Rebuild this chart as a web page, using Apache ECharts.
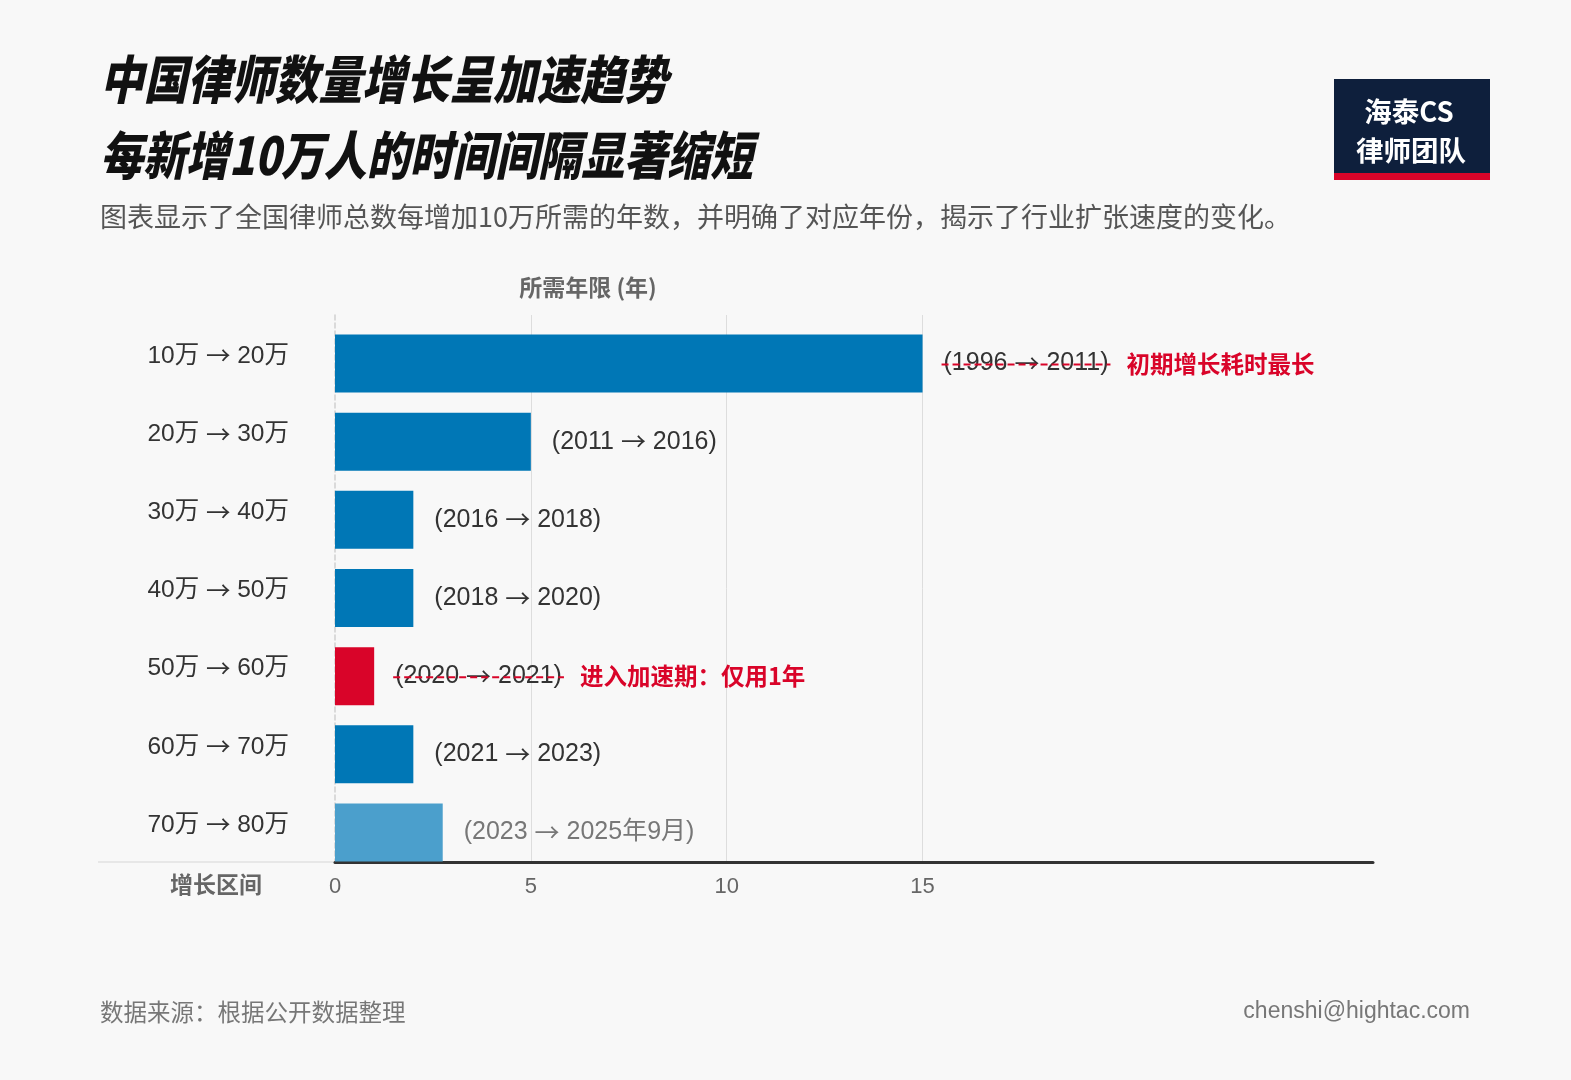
<!DOCTYPE html>
<html><head><meta charset="utf-8">
<script src="https://cdn.jsdelivr.net/npm/echarts@6/dist/echarts.min.js"></script>
<style>html,body{margin:0;padding:0;background:#f8f8f8}#c{width:1571px;height:1080px}</style>
</head><body><div id="c"></div>
<script>
const categories = ['10万 → 20万','20万 → 30万','30万 → 40万','40万 → 50万','50万 → 60万','60万 → 70万','70万 → 80万'];
const years = [15, 5, 2, 2, 1, 2, 2.75];
const periods = ['(1996 → 2011)','(2011 → 2016)','(2016 → 2018)','(2018 → 2020)','(2020 → 2021)','(2021 → 2023)','(2023 → 2025年9月)'];
const notes = ['初期增长耗时最长','','','','进入加速期：仅用1年','',''];
const barKinds = ['normal','normal','normal','normal','highlight','normal','estimate'];
const xTicks = [0, 5, 10, 15];

const FONT = '"Liberation Sans","Noto Sans CJK SC",sans-serif';
const CJK = '"Noto Sans CJK SC","Liberation Sans",sans-serif';
const colors = {normal:'#0077b6', highlight:'#d90429', estimate:'#4b9fcc'};
const LABEL_DIST = 21, LABEL_SIZE = 25;

const mctx = document.createElement('canvas').getContext('2d');
function textW(t, font){ mctx.font = font; return mctx.measureText(t).width; }
// width of a "A → B" string drawn with latin text + CJK arrow
function arrowTextW(t, size){
  const parts = t.split('→');
  let w = 0;
  parts.forEach((p, k) => {
    w += textW(p, size + 'px ' + FONT);
    if (k < parts.length - 1) w += textW('→', size + 'px ' + CJK);
  });
  return w;
}
function richArrow(t, s, a){
  return t.split('→').map(p => p ? '{' + s + '|' + p + '}' : '').join('{' + a + '|→}');
}

const chart = echarts.init(document.getElementById('c'), null, {renderer:'canvas'});

const barData = years.map((v,i)=>({
  value: v,
  itemStyle: {color: colors[barKinds[i]]},
  label: {
    formatter: barKinds[i]==='estimate'
      ? richArrow(periods[i], 'g', 'ga')
      : richArrow(periods[i], 'p', 'pa') + (notes[i] ? '{n|' + notes[i] + '}' : '')
  }
}));

const strikeData = [];
notes.forEach((n,i)=>{ if(n) strikeData.push([years[i], i]); });

chart.setOption({
  backgroundColor: '#f8f8f8',
  animation: false,
  grid: [
    {left: 335, right: 198, top: 315, bottom: 218},
    {left: 335, right: 198, top: 324.5, bottom: 208.5}
  ],
  xAxis: [
    {
      gridIndex: 0, type: 'value', min: 0, max: 26.5, interval: 5,
      axisLine: {show: true, lineStyle: {color: '#333', width: 3}},
      axisTick: {show: false},
      axisLabel: {
        color: '#666', fontSize: 22, fontFamily: FONT, margin: 14,
        formatter: v => xTicks.indexOf(v) >= 0 ? String(v) : ''
      },
      splitLine: {show: true, lineStyle: {color: ['transparent','#dddddd','#dddddd','#dddddd','transparent','transparent','transparent'], width: 1}}
    },
    {
      gridIndex: 1, type: 'value', min: 0, max: 26.5, interval: 5, show: false,
      splitLine: {show: false}
    }
  ],
  yAxis: [
    {
      gridIndex: 0, type: 'category', inverse: true, data: categories,
      axisLine: {show: true, lineStyle: {color: '#cfcfcf', type: [5,3], width: 1.5}},
      axisTick: {show: false},
      axisLabel: {
        margin: 46,
        formatter: v => richArrow(v, 't', 'a'),
        rich: {
          t: {color: '#333', fontSize: 24.5, fontFamily: FONT, padding: [4,0,0,0]},
          a: {color: '#333', fontSize: 24.5, fontFamily: CJK, padding: [4,0,0,0]}
        }
      }
    },
    {
      gridIndex: 1, type: 'category', inverse: true, data: categories, show: false
    }
  ],
  series: [
    {
      type: 'bar', xAxisIndex: 1, yAxisIndex: 1, barWidth: 58, data: barData,
      label: {
        show: true, position: 'right', distance: LABEL_DIST,
        rich: {
          p: {color: '#333', fontSize: LABEL_SIZE, fontFamily: FONT},
          pa: {color: '#333', fontSize: LABEL_SIZE, fontFamily: CJK},
          g: {color: '#777', fontSize: LABEL_SIZE, fontFamily: FONT},
          ga: {color: '#777', fontSize: LABEL_SIZE, fontFamily: CJK},
          n: {color: '#d90429', fontSize: 23.5, fontWeight: 'bold', fontFamily: CJK, padding: [0,0,0,18]}
        }
      }
    },
    {
      type: 'custom', xAxisIndex: 1, yAxisIndex: 1, z: 10, data: strikeData,
      renderItem: function(params, api){
        const i = api.value(1);
        const p = api.coord([api.value(0), i]);
        const x1 = p[0] + LABEL_DIST - 2;
        const x2 = p[0] + LABEL_DIST + arrowTextW(periods[i], LABEL_SIZE) + 2;
        return {
          type: 'line',
          shape: {x1: x1, y1: p[1] + 1, x2: x2, y2: p[1] + 1},
          style: {stroke: '#d90429', lineWidth: 2, lineDash: [7,4]}
        };
      }
    }
  ],
  graphic: [
    {type:'text', x: 100, y: 79, scaleX: 0.84, style:{text:'中国律师数量增长呈加速趋势', fill:'#111', fontSize: 52, fontWeight: 900, fontStyle:'italic', fontFamily: CJK, verticalAlign:'middle'}},
    {type:'text', x: 100, y: 155, scaleX: 0.825, style:{text:'每新增10万人的时间间隔显著缩短', fill:'#111', fontSize: 52, fontWeight: 900, fontStyle:'italic', fontFamily: CJK, verticalAlign:'middle'}},
    {type:'text', x: 100, y: 217, style:{text:'图表显示了全国律师总数每增加10万所需的年数，并明确了对应年份，揭示了行业扩张速度的变化。', fill:'#555', fontSize: 27, fontFamily: CJK, verticalAlign:'middle'}},
    {type:'rect', left: 1334, top: 79, shape:{width:156, height:101}, style:{fill:'#0e1f3c'}},
    {type:'rect', left: 1334, top: 173, shape:{width:156, height:7}, style:{fill:'#d90429'}},
    {type:'text', x: 1409, y: 112, style:{text:'海泰CS', fill:'#fff', fontSize: 27.5, fontWeight:'bold', fontFamily: CJK, align:'center', verticalAlign:'middle'}},
    {type:'text', x: 1411, y: 151, style:{text:'律师团队', fill:'#fff', fontSize: 27.5, fontWeight:'bold', fontFamily: CJK, align:'center', verticalAlign:'middle'}},
    {type:'text', x: 588, y: 287, style:{text:'所需年限 (年)', fill:'#666', fontSize: 23, fontWeight:'bold', fontFamily: CJK, align:'center', verticalAlign:'middle'}},
    {type:'text', x: 216, y: 884, style:{text:'增长区间', fill:'#666', fontSize: 23, fontWeight:'bold', fontFamily: CJK, align:'center', verticalAlign:'middle'}},
    {type:'line', shape:{x1: 98, y1: 862, x2: 335, y2: 862}, style:{stroke:'#d6d6d6', lineWidth: 1}},
    {type:'text', x: 100, y: 1012, style:{text:'数据来源：根据公开数据整理', fill:'#777', fontSize: 23.5, fontFamily: CJK, verticalAlign:'middle'}},
    {type:'text', x: 1470, y: 1012, style:{text:'chenshi@hightac.com', fill:'#777', fontSize: 23, fontFamily: FONT, align:'right', verticalAlign:'middle'}}
  ]
});
</script></body></html>
